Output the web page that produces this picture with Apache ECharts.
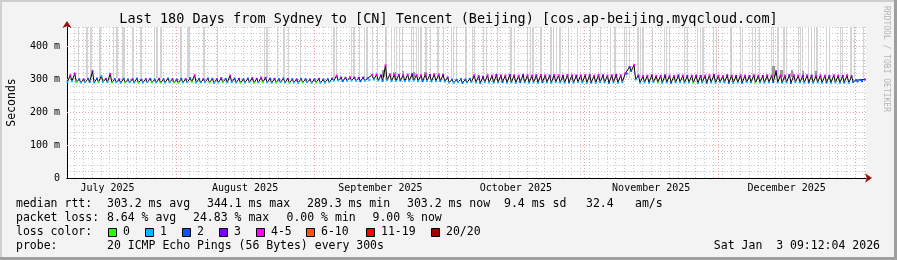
<!DOCTYPE html>
<html><head><meta charset="utf-8">
<script src="https://cdn.jsdelivr.net/npm/echarts@6/dist/echarts.min.js"></script>
<style>html,body{margin:0;padding:0;background:#f3f3f3}#c{width:897px;height:260px}</style>
</head><body><div id="c"></div>
<script>
// x axis unit: days relative to 2026-01-01 00:00
const START = -177.6166, END = 2.3834;
const monthStarts = [-153, -122, -92, -61, -31, 0];
const monthLabelPos = [-168.5, -137.5, -107, -76.5, -46, -15.5];
const monthLabels = ['July 2025', 'August 2025', 'September 2025', 'October 2025', 'November 2025', 'December 2025'];
const yMajor = [100, 200, 300, 400];

// daily median rtt (ms): low and high of each daily tooth
const lowRtt = [
 293,295,292,291,292,293,291,292,293,292,
 291,292,290,291,292,291,290,291,292,291,
 291,290,291,292,291,290,291,292,293,291,
 291,292,291,290,291,292,291,292,291,290,
 291,292,290,291,292,291,290,291,292,291,
 290,291,290,291,292,290,291,290,291,292,
 296,297,295,296,297,296,295,296,298,300,
 297,296,298,295,296,297,295,296,297,295,
 295,296,294,295,296,294,291,290,292,290,
 291,292,291,290,292,291,290,291,292,290,
 291,290,292,291,290,291,290,292,291,290,
 292,291,290,291,290,292,291,290,291,290,
 292,291,290,291,290,292,318,326,300,290,
 291,290,292,291,290,291,290,291,292,290,
 291,290,289,291,290,291,290,292,291,290,
 290,291,290,292,291,290,291,290,291,292,
 291,290,291,290,292,291,290,291,290,291,
 290,291,290,291,290,291,290,293,294,295];
const highRtt = [
 313,318,301,300,302,325,303,311,302,317,
 301,300,302,300,301,303,300,301,302,300,
 302,301,303,301,300,302,301,304,313,302,
 301,303,302,301,304,302,312,303,302,301,
 303,304,302,306,305,303,302,301,303,302,
 301,300,302,301,300,301,302,300,301,303,
 312,306,305,307,306,305,306,304,314,315,
 313,343,316,315,314,313,315,316,314,313,
 315,314,316,315,314,306,300,299,301,300,
 302,313,310,308,313,312,314,313,312,314,
 313,312,314,313,312,313,314,313,312,314,
 313,312,314,313,312,313,314,313,312,314,
 313,312,313,314,313,318,338,344,312,311,
 312,313,311,312,313,312,311,313,312,311,
 312,313,311,312,313,314,312,311,313,312,
 311,313,312,311,313,312,311,313,312,325,
 313,312,314,313,312,311,313,312,311,313,
 312,311,313,312,311,313,310,298,299,300];
// loss class index (0:"0",1:"1",2:"2",3:"3",4:"4-5",5:"6-10",6:"11-19",7:"20/20")
const lowLoss = [
 1,1,0,1,1,2,1,0,1,1, 0,1,1,0,1,1,0,1,1,0, 1,0,1,1,0,0,1,1,0,1,
 1,1,0,1,1,0,1,1,1,0, 1,1,0,1,0,1,1,0,1,1, 0,1,1,0,1,1,0,1,1,1,
 1,1,2,1,1,1,2,1,1,1, 1,2,1,1,1,2,1,1,1,1, 2,1,1,1,2,1,1,1,1,2,
 1,1,1,2,1,1,1,1,2,1, 1,1,2,1,1,1,1,2,1,1, 1,1,1,2,1,1,1,1,2,1,
 1,1,2,1,1,1,2,2,1,1, 1,1,1,0,1,1,2,1,1,1, 1,0,1,1,2,1,1,1,1,2,
 1,1,2,1,1,0,1,1,1,2, 1,1,1,2,1,1,1,2,1,1, 1,2,1,1,1,2,1,2,2,2];
const highLoss = [
 4,4,2,3,2,3,2,1,3,4, 2,3,2,2,3,2,2,3,2,2, 3,2,2,3,2,2,3,2,4,2,
 3,2,2,3,3,2,4,2,3,2, 2,3,3,4,3,2,3,2,2,3, 2,3,2,2,3,2,3,2,2,3,
 4,3,3,4,3,3,3,2,4,4, 3,4,4,4,3,4,4,3,4,4, 4,3,4,4,3,3,2,2,2,2,
 2,4,3,3,4,4,3,4,4,3, 4,4,3,4,4,3,4,4,3,4, 4,3,4,4,3,4,4,3,4,4,
 3,4,4,3,4,4,3,4,3,4, 4,3,4,4,3,4,4,3,4,3, 4,4,3,4,4,3,4,4,3,4,
 3,4,4,3,4,4,3,4,4,3, 4,4,3,4,4,3,4,3,4,4, 4,3,4,4,3,4,3,2,2,3];
// smoke stripes: [fromDay, toDay] (days since start) where pings spread above the chart top
const smoke = [[2.4,2.8],[4.2,4.7],[5.2,5.6],[7.3,7.7],[10.4,10.65],[11.1,11.4],[12.5,13.0],[14.7,15.0],[16.5,16.8],
 [19.5,19.75],[20.1,20.4],[21.0,21.3],[25.5,25.8],[27.1,27.6],[30.7,31.2],[33.8,34.1],[44.3,44.55],[44.9,45.2],
 [47.3,47.6],[48.7,49.0],[49.8,50.1],[52.5,52.8],[60.0,60.3],[60.6,60.9],[63.9,64.15],[64.5,64.8],[65.8,66.1],
 [66.8,67.05],[67.4,67.7],[68.7,69.0],[69.8,70.1],[71.7,72.0],[73.0,73.3],[73.6,73.85],[74.2,74.45],[74.8,75.05],
 [75.5,75.8],[77.4,77.65],[78.0,78.25],[78.6,78.85],[79.1,79.35],[79.6,79.9],[80.7,81.0],[81.8,82.1],[83.4,83.7],
 [84.7,85.0],[86.4,86.65],[87.0,87.25],[87.6,87.9],[89.7,90.0],[91.3,91.55],[91.75,92.0],[93.8,94.05],[94.45,94.7],
 [96.9,97.2],[99.9,100.15],[100.7,101.0],[103.7,103.95],[104.3,104.55],[104.85,105.1],[106.6,106.9],[108.9,109.15],
 [109.5,109.75],[110.1,110.35],[110.9,111.2],[112.9,113.2],[114.9,115.2],[117.8,118.1],[120.1,120.4],[122.4,122.65],
 [123.3,123.6],[125.4,125.65],[126.0,126.25],[126.6,126.9],[128.5,128.75],[129.1,129.35],[129.6,129.9],[131.8,132.1],
 [134.4,134.65],[135.0,135.25],[135.6,135.9],[138.9,139.15],[139.7,140.0],[142.0,142.25],[142.6,142.85],[143.15,143.4],
 [145.6,145.85],[146.25,146.5],[149.4,149.7],[151.7,151.95],[152.15,152.4],[154.4,154.65],[155.0,155.25],[155.9,156.2],
 [158.5,158.75],[159.1,159.35],[160.0,160.3],[161.4,161.65],[162.0,162.3],[164.6,164.85],[165.2,165.45],[165.65,165.9],
 [167.0,167.25],[167.6,167.85],[168.2,168.45],[168.8,169.1],[170.9,171.15],[171.7,172.0],[174.2,174.45],[174.65,174.9],
 [176.5,176.75],[177.3,177.6],[179.3,179.6]];
// darker smoke: [fromDay, toDay, topMs]
const darkSmoke = [[71.0,71.6,330],[73.5,74.2,322],[75.5,76.0,325],[78.0,78.5,324],[80.5,81.0,322],[158.8,159.4,340],[160.6,161.2,328],[163.0,163.5,330],[165.5,166.0,326],[168.5,169.0,325]];

const lossColors = ['#26ff00','#00b8ff','#0059ff','#7e00ff','#ff00ff','#ff5500','#ff0000','#a10000'];
const lossNames = ['0','1','2','3','4-5','6-10','11-19','20/20'];

const medianPts = [];
for (let i = 0; i < lowRtt.length; i++) {
  medianPts.push({value: [START + i + 0.1, lowRtt[i]], itemStyle: {color: lossColors[lowLoss[i]]}});
  medianPts.push({value: [START + i + 0.75, highRtt[i]], itemStyle: {color: lossColors[highLoss[i]]}});
}
const minorX = [];
for (let d = -176; d < END; d += 2) minorX.push(d);

const MONO = '"DejaVu Sans Mono", monospace';
const chart = echarts.init(document.getElementById('c'), null, {renderer: 'canvas'});
const txt = (x, y, text, opt) => Object.assign({type: 'text', x, y, silent: true,
  style: Object.assign({text, font: '11.5px ' + MONO, fill: '#000', textVerticalAlign: 'middle'}, opt || {})});
const graphics = [
  {type: 'rect', shape: {x: 0, y: 0, width: 897, height: 2}, style: {fill: '#cfcfcf'}, silent: true},
  {type: 'rect', shape: {x: 0, y: 0, width: 2, height: 260}, style: {fill: '#cfcfcf'}, silent: true},
  {type: 'rect', shape: {x: 0, y: 257, width: 897, height: 3}, style: {fill: '#9e9e9e'}, silent: true},
  {type: 'rect', shape: {x: 894, y: 0, width: 3, height: 260}, style: {fill: '#9e9e9e'}, silent: true},
  txt(448.5, 19, 'Last 180 Days from Sydney to [CN] Tencent (Beijing) [cos.ap-beijing.myqcloud.com]', {font: '13.5px ' + MONO, textAlign: 'center'}),
  {type: 'text', x: 886, y: 59, rotation: -Math.PI / 2, silent: true,
   style: {text: 'RRDTOOL / TOBI OETIKER', font: '8px ' + MONO, fill: '#b5b5b5', textAlign: 'center', textVerticalAlign: 'middle'}},
  txt(16, 204, 'median rtt:'), txt(107, 204, '303.2 ms avg'), txt(207, 204, '344.1 ms max'),
  txt(307, 204, '289.3 ms min'), txt(407, 204, '303.2 ms now'), txt(504, 204, '9.4 ms sd'),
  txt(586, 204, '32.4'), txt(635, 204, 'am/s'),
  txt(16, 218, 'packet loss:'), txt(107, 218, '8.64 % avg'), txt(193, 218, '24.83 % max'),
  txt(286.5, 218, '0.00 % min'), txt(372.5, 218, '9.00 % now'),
  txt(16, 232, 'loss color:'),
  txt(16, 246, 'probe:'), txt(107, 246, '20 ICMP Echo Pings (56 Bytes) every 300s'),
  txt(880, 246, 'Sat Jan  3 09:12:04 2026', {textAlign: 'right'})
];
const boxX = [108, 145, 182, 219, 256, 306, 366, 431];
lossNames.forEach((n, i) => {
  graphics.push({type: 'rect', silent: true, shape: {x: boxX[i] + 0.5, y: 228.5, width: 8, height: 8},
    style: {fill: lossColors[i], stroke: '#000', lineWidth: 1}});
  graphics.push(txt(boxX[i] + 15, 232, n));
});

const snapRect = (api, fill) => {
  const a = api.coord([api.value(0), api.value(3)]);
  const b = api.coord([api.value(1), api.value(2)]);
  const x0 = Math.round(a[0]), x1 = Math.max(x0 + 1, Math.round(b[0]));
  return {type: 'rect', shape: {x: x0, y: Math.round(a[1]), width: x1 - x0, height: Math.round(b[1]) - Math.round(a[1])}, style: {fill}};
};

const arrowLine = {show: true, onZero: false, lineStyle: {color: '#9a1010', width: 1}, symbol: ['none', 'arrow'], symbolSize: [7, 7], symbolOffset: [0, 6]};
chart.setOption({
  animation: false,
  backgroundColor: '#f3f3f3',
  grid: {left: 67, right: 31, top: 27, bottom: 82, outerBoundsMode: 'none', containLabel: false,
         show: true, backgroundColor: '#ffffff', borderWidth: 0},
  xAxis: [{
    type: 'value', min: START, max: END, position: 'bottom',
    axisLine: arrowLine, axisTick: {show: false}, splitLine: {show: false}, axisLabel: {show: false}
  }, {
    type: 'value', min: START, max: END, position: 'bottom',
    axisLine: {show: true, onZero: false, lineStyle: {color: '#000', width: 1}},
    axisTick: {show: false}, splitLine: {show: false},
    axisLabel: {show: true, customValues: monthLabelPos, formatter: v => {
      const k = monthLabelPos.findIndex(p => Math.abs(p - v) < 0.01); return k >= 0 ? monthLabels[k] : '';
    }, fontFamily: MONO, fontSize: 10, color: '#000', margin: 5}
  }],
  yAxis: [{
    type: 'value', min: 0, max: 460, interval: 20, position: 'left',
    axisLine: arrowLine, axisTick: {show: false}, splitLine: {show: false}, axisLabel: {show: false}
  }, {
    type: 'value', min: 0, max: 460, interval: 20, position: 'left',
    name: 'Seconds', nameLocation: 'middle', nameGap: 49, nameRotate: 90,
    nameTextStyle: {fontFamily: MONO, fontSize: 11.5, color: '#000'},
    axisLine: {show: true, onZero: false, lineStyle: {color: '#000', width: 1}},
    axisTick: {show: false},
    splitLine: {show: true, lineStyle: {color: '#c8c8c8', type: [1, 2], width: 1}},
    axisLabel: {formatter: v => (v % 100 === 0 ? (v === 0 ? '0' : v + ' m') : ''), fontFamily: MONO, fontSize: 10, color: '#000', margin: 7}
  }],
  graphic: graphics,
  series: [
    {type: 'line', data: [], z: 1, silent: true,
     markLine: {silent: true, symbol: 'none', label: {show: false}, animation: false,
       data: minorX.map(v => ({xAxis: v, lineStyle: {color: '#c8c8c8', type: [1, 2], width: 1}}))
         .concat(monthStarts.map(v => ({xAxis: v, lineStyle: {color: '#f0a0a0', type: [1, 2], width: 1}})))
         .concat(yMajor.map(v => ({yAxis: v, lineStyle: {color: '#f0a0a0', type: [1, 2], width: 1}})))}},
    {type: 'custom', z: 2, clip: true, silent: true,
     encode: {x: [0, 1], y: [2, 3]},
     data: smoke.map(s => [START + s[0], START + s[1], 305, 460]),
     renderItem: (p, api) => snapRect(api, '#d4d4d4')},
    {type: 'custom', z: 3, clip: true, silent: true,
     encode: {x: [0, 1], y: [2, 3]},
     data: darkSmoke.map(s => [START + s[0], START + s[1], 308, s[2]]),
     renderItem: (p, api) => snapRect(api, '#9a9a9a')},
    {type: 'line', z: 5, silent: true, clip: true, data: medianPts,
     lineStyle: {color: '#000', width: 1}, symbol: 'rect', symbolSize: [2, 2], showSymbol: true, showAllSymbol: true}
  ]
});
</script></body></html>
